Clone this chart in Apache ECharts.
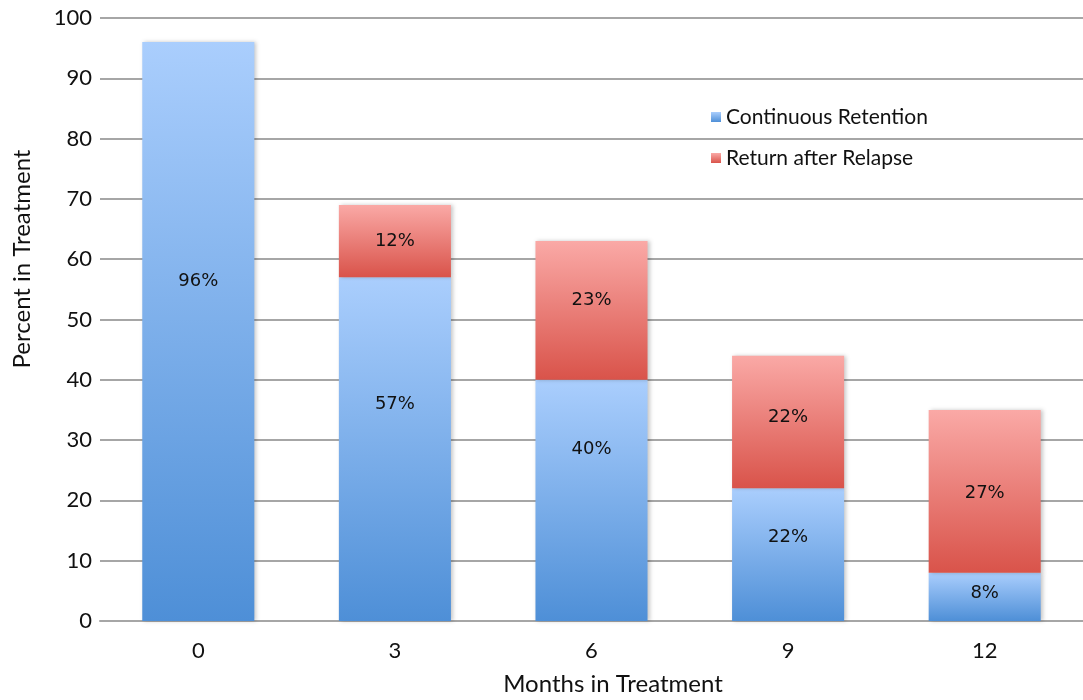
<!DOCTYPE html>
<html>
<head>
<meta charset="utf-8">
<script src="https://cdn.jsdelivr.net/npm/echarts@6/dist/echarts.min.js"></script>
<style>
  html, body { margin: 0; padding: 0; background: #fff; }
  #chart { width: 1083px; height: 700px; }
</style>
</head>
<body>
<div id="chart"></div>
<script>
// Months since treatment start
const months = ['0', '3', '6', '9', '12'];
// Percent still in treatment, split by retention type
const continuousRetention = [96, 57, 40, 22, 8];
const returnAfterRelapse = ['-', 12, 23, 22, 27];
// Axis labelling
const yTicks = { min: 0, max: 100, step: 10 };
const seriesNames = ['Continuous Retention', 'Return after Relapse'];

// Vertical nudges (px) for the in-bar value labels
const blueLabelShift = [-50, -45, -51, -17, -4];
const redLabelShift = [0, 0, -10, -5, 2];

const grad = (top, bottom) => new echarts.graphic.LinearGradient(0, 0, 0, 1, [
  { offset: 0, color: top },
  { offset: 1, color: bottom }
]);

const labelFont = {
  show: true,
  position: 'inside',
  formatter: '{c}%',
  color: '#111',
  fontSize: 18,
  fontFamily: 'DejaVu Sans'
};

function withShift(values, shifts) {
  return values.map((v, i) => ({
    value: v,
    label: { offset: [0, shifts[i]] }
  }));
}

const chart = echarts.init(document.getElementById('chart'), null, { renderer: 'canvas' });

chart.setOption({
  animation: false,
  backgroundColor: '#fff',
  grid: { left: 100, top: 18, width: 987, height: 603, containLabel: false },
  legend: {
    orient: 'vertical',
    left: 706,
    top: 101,
    itemWidth: 10,
    itemHeight: 10,
    itemGap: 19,
    icon: 'rect',
    data: seriesNames,
    textStyle: { fontSize: 21, fontFamily: 'Lato', color: '#111', lineHeight: 22 }
  },
  xAxis: {
    type: 'category',
    data: months,
    axisLine: { show: true, lineStyle: { color: '#a6a6a6', width: 2 } },
    axisTick: { show: false },
    axisLabel: { fontSize: 22, fontFamily: 'Lato', color: '#111', margin: 19 }
  },
  yAxis: {
    type: 'value',
    min: yTicks.min,
    max: yTicks.max,
    interval: yTicks.step,
    axisLine: { show: false },
    axisTick: { show: false },
    axisLabel: { fontSize: 22, fontFamily: 'Lato', color: '#111', margin: 8 },
    splitLine: { lineStyle: { color: '#a6a6a6', width: 2 } }
  },
  series: [
    {
      name: seriesNames[0],
      type: 'bar',
      stack: 'total',
      barWidth: '57%',
      data: withShift(continuousRetention, blueLabelShift),
      itemStyle: {
        color: grad('#aacefd', '#4e8fd7'),
        shadowColor: 'rgba(0,0,0,0.22)',
        shadowBlur: 4,
        shadowOffsetX: 2
      },
      label: labelFont
    },
    {
      name: seriesNames[1],
      type: 'bar',
      stack: 'total',
      barWidth: '57%',
      data: withShift(returnAfterRelapse, redLabelShift),
      itemStyle: {
        color: grad('#faa9a6', '#d9534a'),
        shadowColor: 'rgba(0,0,0,0.22)',
        shadowBlur: 4,
        shadowOffsetX: 2
      },
      label: labelFont
    }
  ],
  graphic: [
    {
      type: 'text',
      x: 22,
      y: 259,
      rotation: Math.PI / 2,
      style: {
        text: 'Percent in Treatment',
        font: '24px Lato',
        fill: '#111',
        align: 'center',
        verticalAlign: 'middle'
      }
    },
    {
      type: 'text',
      x: 613,
      y: 684,
      style: {
        text: 'Months in Treatment',
        font: '24px Lato',
        fill: '#111',
        align: 'center',
        verticalAlign: 'middle'
      }
    }
  ]
});
</script>
</body>
</html>
